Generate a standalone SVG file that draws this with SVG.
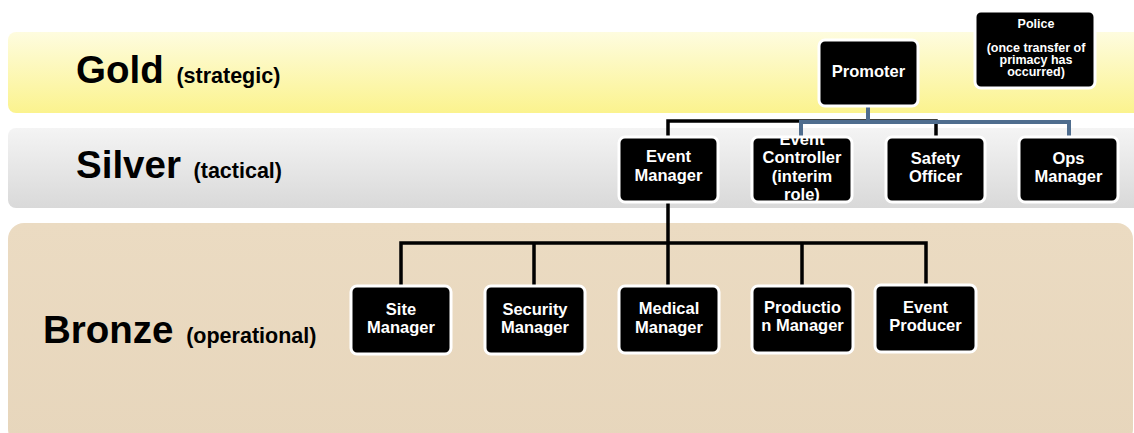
<svg xmlns="http://www.w3.org/2000/svg" width="1134" height="433" viewBox="0 0 1134 433">
<defs>
<linearGradient id="gGold" x1="0" y1="0" x2="0" y2="1">
<stop offset="0" stop-color="#fefcdf"/>
<stop offset="1" stop-color="#fbf38e"/>
</linearGradient>
<linearGradient id="gSilver" x1="0" y1="0" x2="0" y2="1">
<stop offset="0" stop-color="#f4f4f4"/>
<stop offset="1" stop-color="#d9d9d9"/>
</linearGradient>
<linearGradient id="gBronze" x1="0" y1="0" x2="0" y2="1">
<stop offset="0" stop-color="#ebdbc2"/>
<stop offset="1" stop-color="#e7d6bc"/>
</linearGradient>
<clipPath id="clipEC"><rect x="752" y="137" width="100" height="65" rx="6"/></clipPath>
</defs>
<style>
.tier{font-family:"Liberation Sans",Arial,sans-serif;font-weight:bold;fill:#000}
.big{font-size:38.5px}
.sub{font-size:21.5px}
.box{fill:#000;stroke:#fff;stroke-width:3}
.lbl{font-family:"Liberation Sans",Arial,sans-serif;font-weight:bold;font-size:16.5px;fill:#fff;text-anchor:middle}
.small{font-size:12.5px}
.blk{stroke:#000;stroke-width:3.5;fill:none}
.blu{stroke:#4f6d8e;stroke-width:4;fill:none}
</style>
<rect width="1134" height="433" fill="#fff"/>
<g id="bands">
<rect x="8" y="32" width="1140" height="81" rx="8" fill="url(#gGold)"/>
<rect x="8" y="128" width="1140" height="80" rx="8" fill="url(#gSilver)"/>
<rect x="8" y="223" width="1125" height="222" rx="16" fill="url(#gBronze)"/>
<text class="tier big" x="76" y="83">Gold <tspan class="sub" dx="2">(strategic)</tspan></text>
<text class="tier big" x="76" y="178">Silver <tspan class="sub" dx="2">(tactical)</tspan></text>
<text class="tier big" x="43" y="343">Bronze <tspan class="sub" dx="2">(operational)</tspan></text>
</g>
<g id="connectors">
<path class="blk" d="M668 137V121H936V137"/>
<path class="blu" d="M868 106V122M801 137V122H1069V137"/>
<path class="blk" d="M668 201V243M401 286V243H926V286M534 243V286M668 243V286M802 243V286"/>
</g>
<g id="promoter">
<rect class="box" x="819" y="40" width="99" height="66" rx="6"/>
<text class="lbl" x="868.5" y="77">Promoter</text>
</g>
<g id="police">
<rect class="box" x="975" y="11" width="120" height="77" rx="6"/>
<text class="lbl small" x="1036" y="28">Police</text>
<text class="lbl small" x="1036" y="52">(once transfer of</text>
<text class="lbl small" x="1036" y="64">primacy has</text>
<text class="lbl small" x="1036" y="76">occurred)</text>
</g>
<g id="event-manager">
<rect class="box" x="619" y="137" width="99" height="65" rx="6"/>
<text class="lbl" x="668.5" y="162">Event</text>
<text class="lbl" x="668.5" y="181">Manager</text>
</g>
<g id="event-controller">
<rect class="box" x="752" y="137" width="100" height="65" rx="6"/>
<g clip-path="url(#clipEC)">
<text class="lbl" x="802" y="145">Event</text>
<text class="lbl" x="802" y="163">Controller</text>
<text class="lbl" x="802" y="182">(interim</text>
<text class="lbl" x="802" y="200">role)</text>
</g>
</g>
<g id="safety-officer">
<rect class="box" x="886" y="137" width="99" height="65" rx="6"/>
<text class="lbl" x="935.5" y="164">Safety</text>
<text class="lbl" x="935.5" y="182">Officer</text>
</g>
<g id="ops-manager">
<rect class="box" x="1019" y="137" width="99" height="65" rx="6"/>
<text class="lbl" x="1068.5" y="164">Ops</text>
<text class="lbl" x="1068.5" y="182">Manager</text>
</g>
<g id="site-manager">
<rect class="box" x="351" y="286" width="100" height="68" rx="6"/>
<text class="lbl" x="401" y="315">Site</text>
<text class="lbl" x="401" y="333">Manager</text>
</g>
<g id="security-manager">
<rect class="box" x="485" y="286" width="100" height="68" rx="6"/>
<text class="lbl" x="535" y="315">Security</text>
<text class="lbl" x="535" y="333">Manager</text>
</g>
<g id="medical-manager">
<rect class="box" x="619" y="286" width="100" height="67" rx="6"/>
<text class="lbl" x="669" y="314">Medical</text>
<text class="lbl" x="669" y="333">Manager</text>
</g>
<g id="production-manager">
<rect class="box" x="752" y="286" width="101" height="67" rx="6"/>
<text class="lbl" x="802.5" y="313">Productio</text>
<text class="lbl" x="802.5" y="331">n Manager</text>
</g>
<g id="event-producer">
<rect class="box" x="875" y="285" width="101" height="67" rx="6"/>
<text class="lbl" x="925.5" y="313">Event</text>
<text class="lbl" x="925.5" y="331">Producer</text>
</g>
</svg>
